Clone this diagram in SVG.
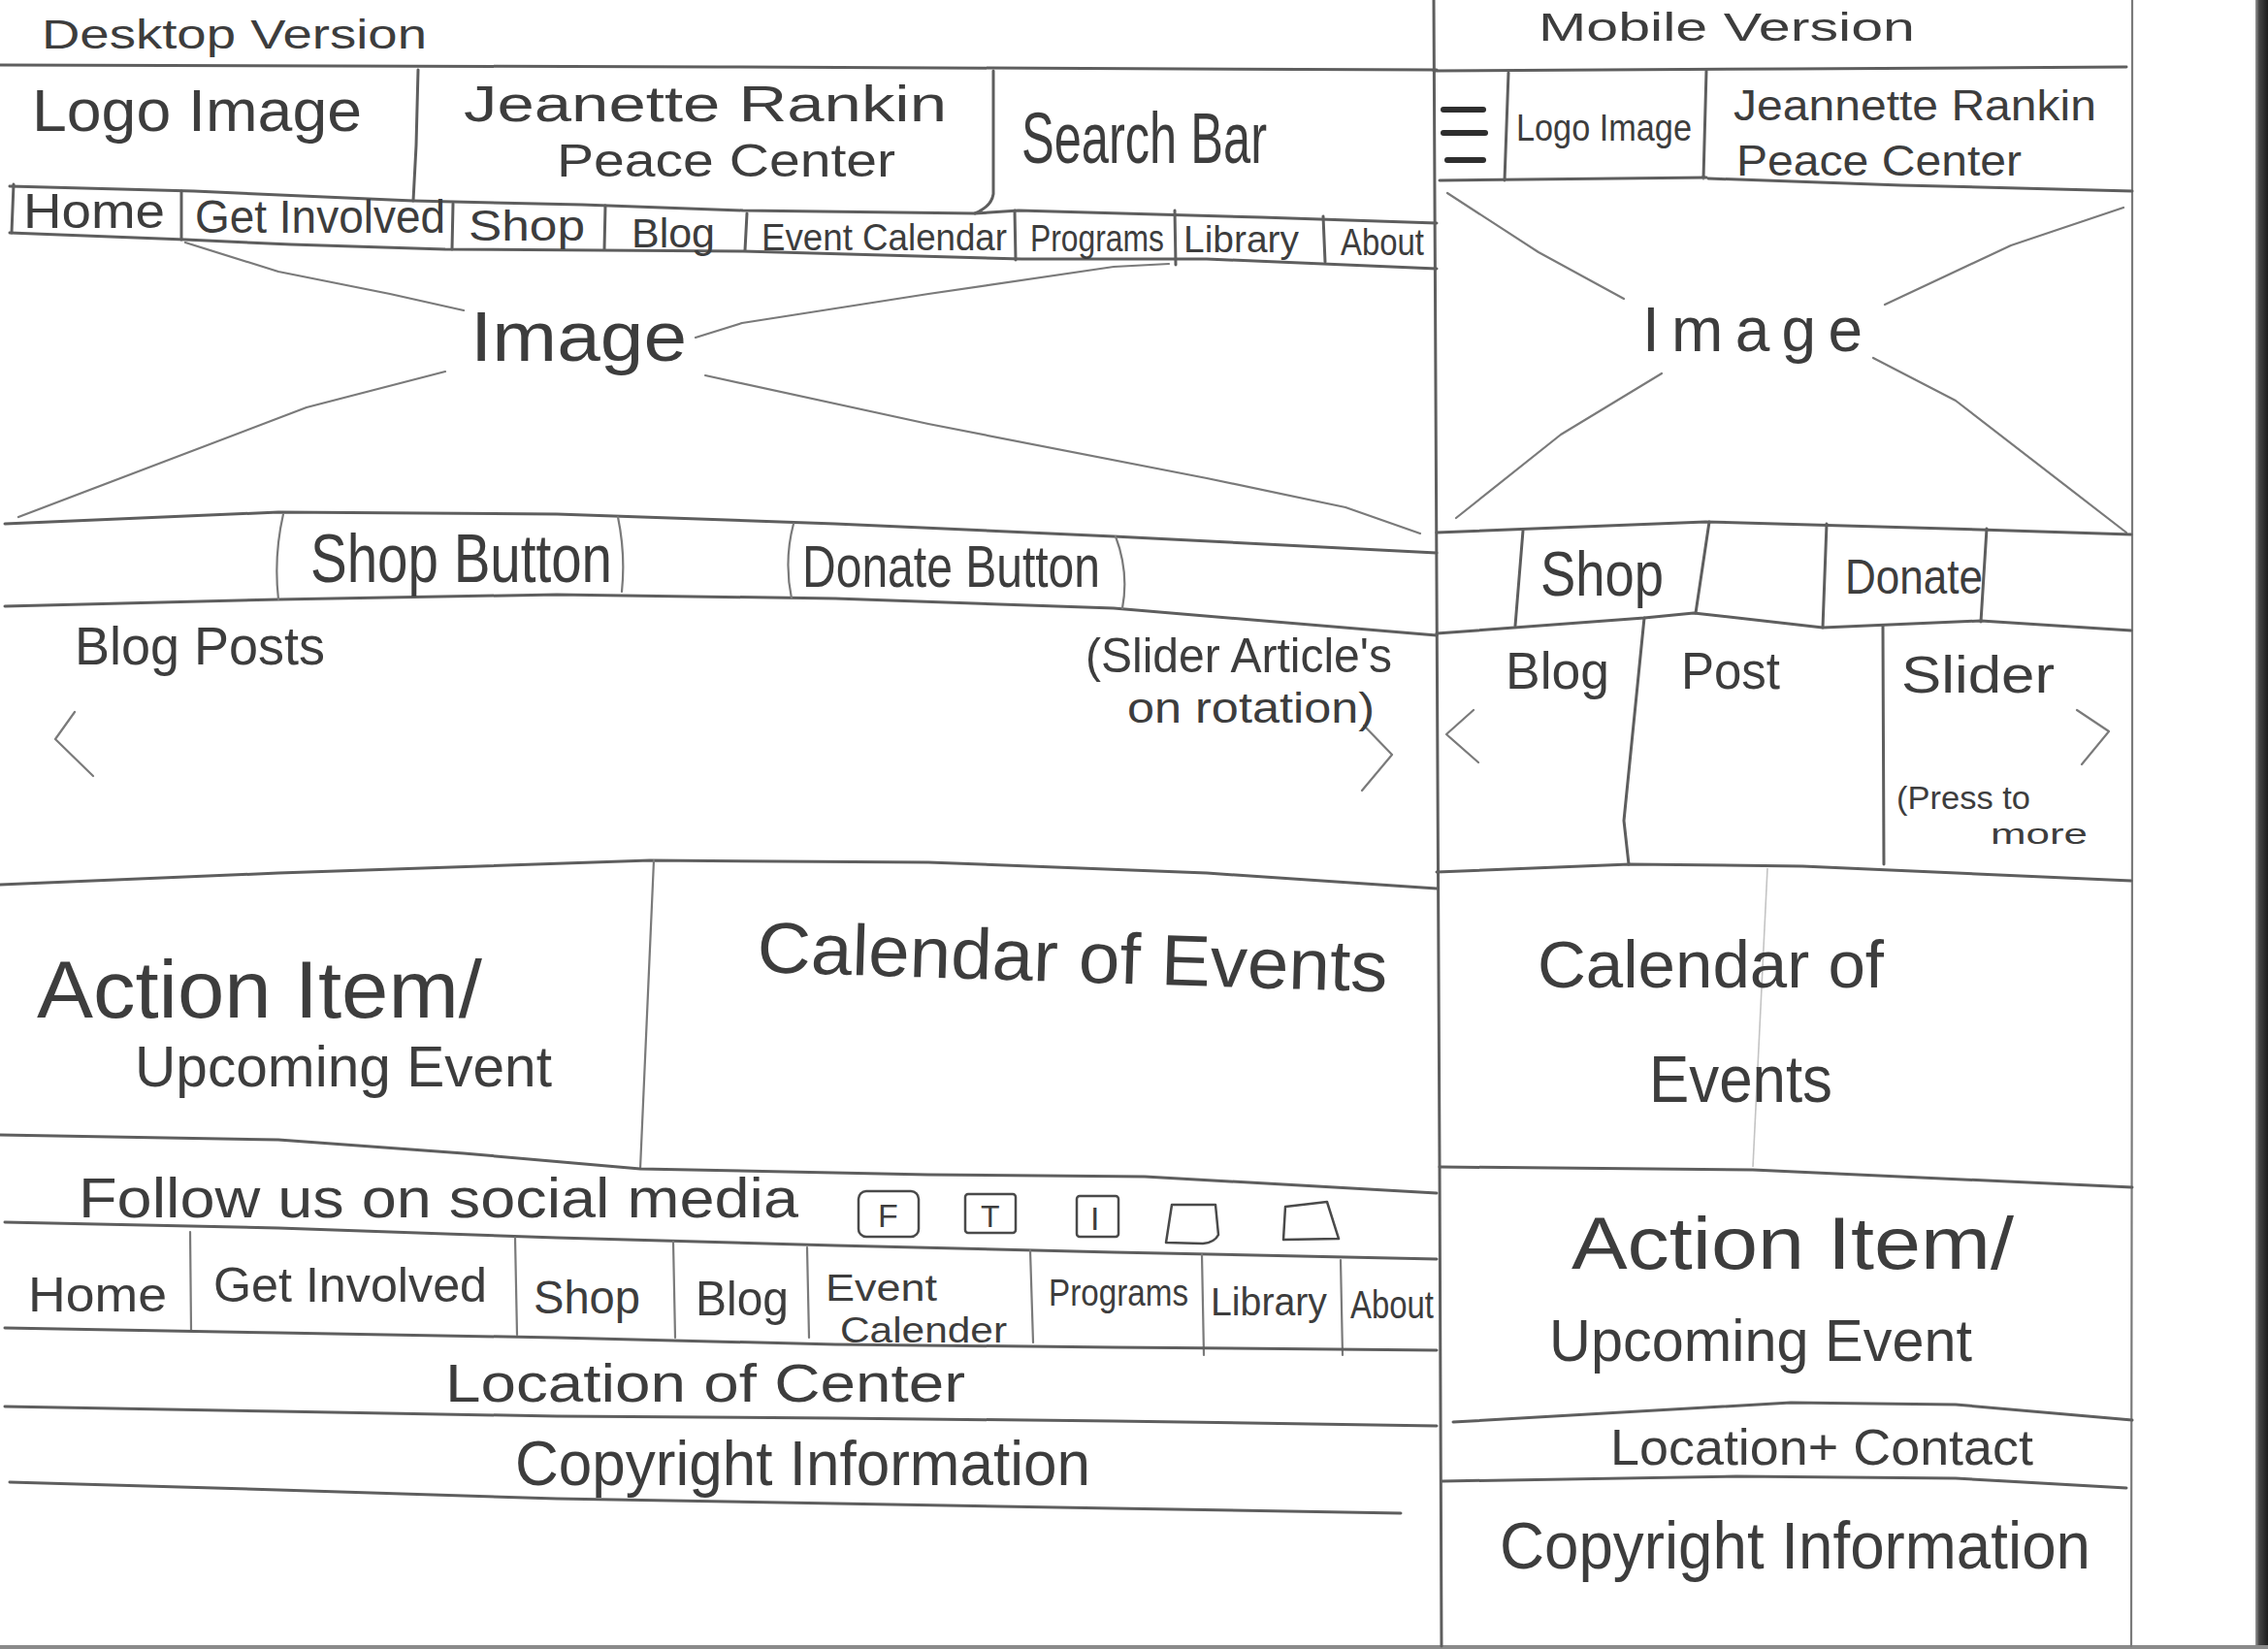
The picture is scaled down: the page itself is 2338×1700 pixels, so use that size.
<svg xmlns="http://www.w3.org/2000/svg" width="2338" height="1700" viewBox="0 0 2338 1700">
<defs>
<style>
.t{font-family:"Liberation Sans","DejaVu Sans",Arial,sans-serif;fill:#3d3d3d;}
.ln{fill:none;stroke:#5e5e5e;stroke-width:3;stroke-linecap:round;stroke-linejoin:round;}
.th{fill:none;stroke:#7a7a7a;stroke-width:2.2;stroke-linecap:round;stroke-linejoin:round;}
.fa{fill:none;stroke:#c4c4c4;stroke-width:1.6;}
.bar{stroke:#2e2e2e;stroke-width:6;stroke-linecap:round;}
.ic{fill:none;stroke:#4a4a4a;stroke-width:2.5;stroke-linejoin:round;}
</style>
<linearGradient id="edge" x1="0" y1="0" x2="1" y2="0">
<stop offset="0" stop-color="#9a9a9a"/>
<stop offset="0.3" stop-color="#444"/>
<stop offset="1" stop-color="#1e1e1e"/>
</linearGradient>
</defs>
<rect width="2338" height="1700" fill="#ffffff"/>
<rect x="2325" y="0" width="13" height="1700" fill="url(#edge)"/>
<rect x="0" y="1696" width="2338" height="4" fill="#8a8a8a"/>

<g id="connectors">
<path class="ln" d="M0,67 L740,69 L1481,72"/>
<path class="ln" d="M431,72 L429,150 L426,207"/>
<path class="ln" d="M1024,73 L1024,200 Q1022,213 1005,220"/>
<path class="ln" d="M10,192 L200,197 L426,207 L600,211 L766,217 L1005,220 L1050,217 L1300,224 L1481,230"/>
<path class="ln" d="M10,240 L191,247 L300,252 L459,257 L766,259 L1053,267 L1244,267 L1481,277"/>
<path class="ln" d="M14,190 L12,240 M187,197 L187,247 M467,210 L466,257 M624,212 L623,257 M770,220 L768,258 M1046,217 L1047,268 M1211,217 L1212,273 M1364,223 L1366,270"/>
<path class="th" d="M191,250 L287,280 L402,303 L478,320"/>
<path class="th" d="M459,383 L316,420 L19,533"/>
<path class="th" d="M717,348 L765,333 L957,303 L1148,275 L1205,272"/>
<path class="th" d="M727,387 L957,437 L1244,493 L1387,523 L1464,550"/>
<path class="ln" d="M5,540 L287,528 L574,530 L861,540 L1148,553 L1481,570"/>
<path class="ln" d="M5,625 L287,618 L574,613 L861,617 L1148,627 L1481,655"/>
<path class="th" d="M292,530 Q282,574 287,618 M637,533 Q645,572 641,610 M818,540 Q808,578 816,617 M1150,553 Q1164,590 1157,627"/>
<path class="th" d="M77,734 L57,762 L96,800 M1406,748 L1435,778 L1404,815"/>
<path class="ln" d="M0,912 L287,900 L670,887 L957,889 L1244,900 L1481,916"/>
<path class="th" d="M674,887 L660,1205"/>
<path class="ln" d="M0,1170 L287,1175 L478,1189 L660,1205 L957,1211 L1180,1213 L1481,1230"/>
<path class="ln" d="M5,1260 L287,1266 L574,1276 L861,1284 L1148,1291 L1481,1298"/>
<path class="th" d="M196,1270 L197,1371 M531,1276 L533,1376 M694,1280 L696,1379 M832,1286 L834,1379 M1062,1289 L1065,1384 M1239,1293 L1241,1397 M1382,1299 L1384,1397"/>
<path class="ln" d="M5,1369 L287,1374 L574,1379 L861,1386 L1148,1389 L1481,1392"/>
<path class="ln" d="M5,1450 L287,1455 L574,1460 L861,1462 L1148,1465 L1481,1470"/>
<path class="ln" d="M10,1528 L287,1536 L574,1545 L861,1550 L1148,1555 L1444,1560"/>
<path class="ln" d="M1478,0 L1481,600 L1484,1200 L1486,1697"/>
<path class="th" d="M2198,0 L2198,850 L2197,1697"/>
<path class="ln" d="M1478,73 L1846,71 L2192,69"/>
<path class="ln" d="M1555,75 L1551,186 M1759,73 L1756,184 M1484,186 L1759,183"/>
<path class="ln" d="M1761,184 L1960,191 L2198,197"/>
<path class="th" d="M1492,199 L1586,260 L1674,308 M2189,214 L2073,253 L1943,314 M1713,385 L1609,448 L1501,534 M1931,369 L2016,413 L2192,549"/>
<path class="ln" d="M1481,549 L1758,538 L2040,546 L2197,551"/>
<path class="ln" d="M1570,547 L1562,645 M1762,538 L1748,632 M1883,540 L1879,647 M2048,545 L2042,641"/>
<path class="ln" d="M1481,653 L1695,637 L1746,632 L1879,647 L2042,640 L2197,650"/>
<path class="ln" d="M1695,637 L1674,846 L1679,891 M1941,645 L1942,891"/>
<path class="th" d="M1519,732 L1491,757 L1524,786 M2141,732 L2174,754 L2146,788"/>
<path class="ln" d="M1481,899 L1680,891 L1858,893 L2197,908"/>
<path class="fa" d="M1822,895 L1807,1203"/>
<path class="ln" d="M1484,1203 L1807,1206 L2198,1224"/>
<path class="ln" d="M1498,1466 L1846,1446 L2016,1448 L2198,1464"/>
<path class="ln" d="M1487,1527 L1790,1522 L2016,1524 L2192,1534"/>
</g>

<g id="desktop-title"><text class="t" x="43" y="50" font-size="42" textLength="397" lengthAdjust="spacingAndGlyphs">Desktop Version</text></g>
<g id="d-logo"><text class="t" x="33" y="135" font-size="62" textLength="340" lengthAdjust="spacingAndGlyphs">Logo Image</text></g>
<g id="d-name">
<text class="t" x="478" y="125" font-size="52" textLength="498" lengthAdjust="spacingAndGlyphs">Jeanette Rankin</text>
<text class="t" x="574" y="182" font-size="48" textLength="349" lengthAdjust="spacingAndGlyphs">Peace Center</text>
</g>
<g id="d-search"><text class="t" x="1053" y="168" font-size="74" textLength="253" lengthAdjust="spacingAndGlyphs">Search Bar</text></g>
<g id="d-nav">
<text class="t" x="24" y="235" font-size="50" textLength="146" lengthAdjust="spacingAndGlyphs">Home</text>
<text class="t" x="201" y="240" font-size="48" textLength="258" lengthAdjust="spacingAndGlyphs">Get Involved</text>
<text class="t" x="483" y="248" font-size="44" textLength="120" lengthAdjust="spacingAndGlyphs">Shop</text>
<text class="t" x="651" y="255" font-size="42" textLength="86" lengthAdjust="spacingAndGlyphs">Blog</text>
<text class="t" x="785" y="258" font-size="38" textLength="253" lengthAdjust="spacingAndGlyphs">Event Calendar</text>
<text class="t" x="1062" y="259" font-size="38" textLength="138" lengthAdjust="spacingAndGlyphs">Programs</text>
<text class="t" x="1220" y="260" font-size="38" textLength="119" lengthAdjust="spacingAndGlyphs">Library</text>
<text class="t" x="1382" y="263" font-size="38" textLength="86" lengthAdjust="spacingAndGlyphs">About</text>
</g>
<g id="d-image"><text class="t" x="485" y="372" font-size="72" textLength="223" lengthAdjust="spacingAndGlyphs">Image</text></g>
<g id="d-shop-button"><text class="t" x="320" y="600" font-size="70" textLength="311" lengthAdjust="spacingAndGlyphs">Shop Button</text></g>
<g id="d-donate-button"><text class="t" x="827" y="605" font-size="62" textLength="307" lengthAdjust="spacingAndGlyphs">Donate Button</text></g>
<g id="d-blog">
<text class="t" x="77" y="685" font-size="56" textLength="258" lengthAdjust="spacingAndGlyphs">Blog Posts</text>
<text class="t" x="1119" y="693" font-size="50" textLength="316" lengthAdjust="spacingAndGlyphs">(Slider Article's</text>
<text class="t" x="1162" y="745" font-size="44" textLength="255" lengthAdjust="spacingAndGlyphs">on rotation)</text>
</g>
<g id="d-action">
<text class="t" x="38" y="1049" font-size="84" textLength="459" lengthAdjust="spacingAndGlyphs">Action Item/</text>
<text class="t" x="139" y="1120" font-size="60" textLength="430" lengthAdjust="spacingAndGlyphs">Upcoming Event</text>
</g>
<g id="d-calendar"><text class="t" x="780" y="1002" font-size="74" textLength="650" lengthAdjust="spacingAndGlyphs" transform="rotate(1.8 780 1002)">Calendar of Events</text></g>
<g id="d-social">
<text class="t" x="81" y="1255" font-size="58" textLength="742" lengthAdjust="spacingAndGlyphs">Follow us on social media</text>
<rect class="ic" x="885" y="1228" width="62" height="47" rx="8"/>
<text class="t" x="905" y="1265" font-size="34">F</text>
<rect class="ic" x="995" y="1231" width="52" height="40" rx="3"/>
<text class="t" x="1011" y="1265" font-size="32">T</text>
<rect class="ic" x="1110" y="1233" width="43" height="42" rx="3"/>
<text class="t" x="1124" y="1268" font-size="34">I</text>
<path class="ic" d="M1208,1242 L1253,1242 L1256,1273 Q1252,1281 1240,1282 L1202,1281 Z"/>
<path class="ic" d="M1325,1244 L1368,1239 L1380,1277 L1323,1278 Z"/>
</g>
<g id="d-footer-nav">
<text class="t" x="29" y="1352" font-size="50" textLength="143" lengthAdjust="spacingAndGlyphs">Home</text>
<text class="t" x="220" y="1342" font-size="50" textLength="282" lengthAdjust="spacingAndGlyphs">Get Involved</text>
<text class="t" x="550" y="1354" font-size="48" textLength="110" lengthAdjust="spacingAndGlyphs">Shop</text>
<text class="t" x="717" y="1356" font-size="50" textLength="96" lengthAdjust="spacingAndGlyphs">Blog</text>
<text class="t" x="851" y="1341" font-size="38" textLength="115" lengthAdjust="spacingAndGlyphs">Event</text>
<text class="t" x="866" y="1384" font-size="36" textLength="172" lengthAdjust="spacingAndGlyphs">Calender</text>
<text class="t" x="1081" y="1346" font-size="38" textLength="144" lengthAdjust="spacingAndGlyphs">Programs</text>
<text class="t" x="1248" y="1356" font-size="40" textLength="120" lengthAdjust="spacingAndGlyphs">Library</text>
<text class="t" x="1392" y="1359" font-size="40" textLength="86" lengthAdjust="spacingAndGlyphs">About</text>
</g>
<g id="d-location"><text class="t" x="459" y="1445" font-size="56" textLength="536" lengthAdjust="spacingAndGlyphs">Location of Center</text></g>
<g id="d-copyright"><text class="t" x="531" y="1531" font-size="64" textLength="593" lengthAdjust="spacingAndGlyphs">Copyright Information</text></g>

<g id="mobile-title"><text class="t" x="1586" y="42" font-size="40" textLength="388" lengthAdjust="spacingAndGlyphs">Mobile Version</text></g>
<g id="m-menu">
<line class="bar" x1="1488" y1="113" x2="1529" y2="113"/>
<line class="bar" x1="1488" y1="137" x2="1531" y2="137"/>
<line class="bar" x1="1492" y1="165" x2="1529" y2="165"/>
</g>
<g id="m-logo"><text class="t" x="1563" y="145" font-size="38" textLength="181" lengthAdjust="spacingAndGlyphs">Logo Image</text></g>
<g id="m-name">
<text class="t" x="1787" y="124" font-size="44" textLength="374" lengthAdjust="spacingAndGlyphs">Jeannette Rankin</text>
<text class="t" x="1790" y="181" font-size="44" textLength="294" lengthAdjust="spacingAndGlyphs">Peace Center</text>
</g>
<g id="m-image"><text class="t" x="1693" y="362" font-size="64" textLength="227" lengthAdjust="spacing">Image</text></g>
<g id="m-shop"><text class="t" x="1588" y="614" font-size="64" textLength="127" lengthAdjust="spacingAndGlyphs">Shop</text></g>
<g id="m-donate"><text class="t" x="1902" y="612" font-size="50" textLength="142" lengthAdjust="spacingAndGlyphs">Donate</text></g>
<g id="m-blog">
<text class="t" x="1552" y="710" font-size="54" textLength="107" lengthAdjust="spacingAndGlyphs">Blog</text>
<text class="t" x="1733" y="710" font-size="54" textLength="102" lengthAdjust="spacingAndGlyphs">Post</text>
<text class="t" x="1960" y="714" font-size="54" textLength="158" lengthAdjust="spacingAndGlyphs">Slider</text>
<text class="t" x="1955" y="834" font-size="34" textLength="138" lengthAdjust="spacingAndGlyphs">(Press to</text>
<text class="t" x="2052" y="870" font-size="30" textLength="100" lengthAdjust="spacingAndGlyphs">more</text>
</g>
<g id="m-calendar">
<text class="t" x="1585" y="1018" font-size="68" textLength="357" lengthAdjust="spacingAndGlyphs">Calendar of</text>
<text class="t" x="1700" y="1136" font-size="68" textLength="189" lengthAdjust="spacingAndGlyphs">Events</text>
</g>
<g id="m-action">
<text class="t" x="1620" y="1308" font-size="76" textLength="456" lengthAdjust="spacingAndGlyphs">Action Item/</text>
<text class="t" x="1597" y="1403" font-size="62" textLength="436" lengthAdjust="spacingAndGlyphs">Upcoming Event</text>
</g>
<g id="m-location"><text class="t" x="1660" y="1510" font-size="52" textLength="436" lengthAdjust="spacingAndGlyphs">Location+ Contact</text></g>
<g id="m-copyright"><text class="t" x="1546" y="1617" font-size="68" textLength="609" lengthAdjust="spacingAndGlyphs">Copyright Information</text></g>
</svg>
